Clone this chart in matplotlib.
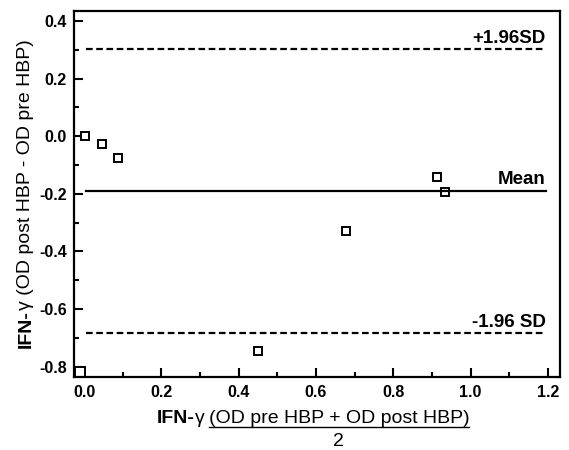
import matplotlib
matplotlib.use("Agg")
import matplotlib.pyplot as plt
from matplotlib.ticker import MultipleLocator
from matplotlib.lines import Line2D

plt.rcParams['font.family'] = ['Liberation Sans', 'DejaVu Sans']

# Bland-Altman data
mean_vals = [0.003, 0.047, 0.087, 0.451, 0.677, 0.914, 0.933]
diff_vals = [0.0, -0.026, -0.075, -0.747, -0.328, -0.141, -0.195]
corner_x = [-0.010]
corner_y = [-0.819]

upper_sd = 0.302
mean_diff = -0.189
lower_sd = -0.683
line_x = [0.005, 1.194]

x_ticks = [0.0, 0.2, 0.4, 0.6, 0.8, 1.0, 1.2]
y_ticks = [0.4, 0.2, 0.0, -0.2, -0.4, -0.6, -0.8]

W, H = 569, 450
fig = plt.figure(figsize=(W / 100, H / 100), dpi=100)
ax = fig.add_axes([74 / W, 1 - 377 / H, (560 - 74) / W, (377 - 11) / H])

ax.plot(mean_vals, diff_vals, linestyle='none', marker='s', markersize=5.2,
        markerfacecolor='white', markeredgecolor='black', markeredgewidth=1.4)
ax.plot(corner_x, corner_y, linestyle='none', marker='s', markersize=7.5,
        markerfacecolor='white', markeredgecolor='black', markeredgewidth=1.4)

ax.plot(line_x, [upper_sd, upper_sd], color='black', lw=1.6, dashes=(3, 1.6))
ax.plot(line_x, [mean_diff, mean_diff], color='black', lw=1.6)
ax.plot(line_x, [lower_sd, lower_sd], color='black', lw=1.6, dashes=(3, 1.6))

lab_kw = dict(ha='right', va='bottom', fontsize=13.5, fontweight='bold')
ax.text(line_x[1], upper_sd + 0.008, '+1.96SD', **lab_kw)
ax.text(line_x[1], mean_diff + 0.008, 'Mean', **lab_kw)
ax.text(line_x[1], lower_sd + 0.008, '-1.96 SD', **lab_kw)

ax.set_xlim(-0.026, 1.231)
ax.set_ylim(-0.836, 0.435)
ax.set_xticks(x_ticks)
ax.set_yticks(y_ticks)
ax.set_xticklabels([f'{v:.1f}' for v in x_ticks])
ax.set_yticklabels([f'{v:.1f}' for v in y_ticks])
ax.xaxis.set_minor_locator(MultipleLocator(0.1))
ax.yaxis.set_minor_locator(MultipleLocator(0.1))
ax.tick_params(which='both', direction='in', width=1.5, top=False, right=False)
ax.tick_params(which='major', length=6.5)
ax.tick_params(which='minor', length=3.5)
ax.tick_params(axis='x', pad=6)
ax.tick_params(axis='y', pad=5)
for lbl in ax.get_xticklabels() + ax.get_yticklabels():
    lbl.set_fontweight('bold')
    lbl.set_fontsize(11.5)
for sp in ax.spines.values():
    sp.set_linewidth(1.6)

# x label built from pieces: bold "IFN-", gamma, underlined fraction
renderer = fig.canvas.get_renderer()
inv = fig.transFigure.inverted()
yx = 1 - 423 / H
t1 = fig.text(157 / W, yx, 'IFN-', fontsize=14, fontweight='bold', ha='left', va='baseline')
e1 = inv.transform(t1.get_window_extent(renderer))
t2 = fig.text(e1[1][0], yx, 'γ', fontsize=14, ha='left', va='baseline')
e2 = inv.transform(t2.get_window_extent(renderer))
t3 = fig.text(e2[1][0] + 4 / W, yx, '(OD pre HBP + OD post HBP)', fontsize=14,
              ha='left', va='baseline')
e3 = inv.transform(t3.get_window_extent(renderer))
uy = 1 - 427 / H
fig.add_artist(Line2D([e3[0][0], e3[1][0]], [uy, uy], transform=fig.transFigure,
                      color='black', lw=1.0))
fig.text((e3[0][0] + e3[1][0]) / 2, 1 - 442 / H, '2', fontsize=14, ha='center', va='center')

# y label from pieces, rotated, centred on the plot height
xy = 26 / W
s1 = fig.text(xy, 0, 'IFN-', fontsize=14, fontweight='bold', rotation=90,
              ha='center', va='bottom')
s2 = fig.text(xy, 0, 'γ (OD post HBP - OD pre HBP)', fontsize=14, rotation=90,
              ha='center', va='bottom')
h1 = inv.transform(s1.get_window_extent(renderer))
h2 = inv.transform(s2.get_window_extent(renderer))
len1 = h1[1][1] - h1[0][1]
len2 = h2[1][1] - h2[0][1]
y0 = (1 - 194 / H) - (len1 + len2) / 2
s1.set_y(y0)
s2.set_y(y0 + len1)

fig.savefig('out.png', dpi=100)
